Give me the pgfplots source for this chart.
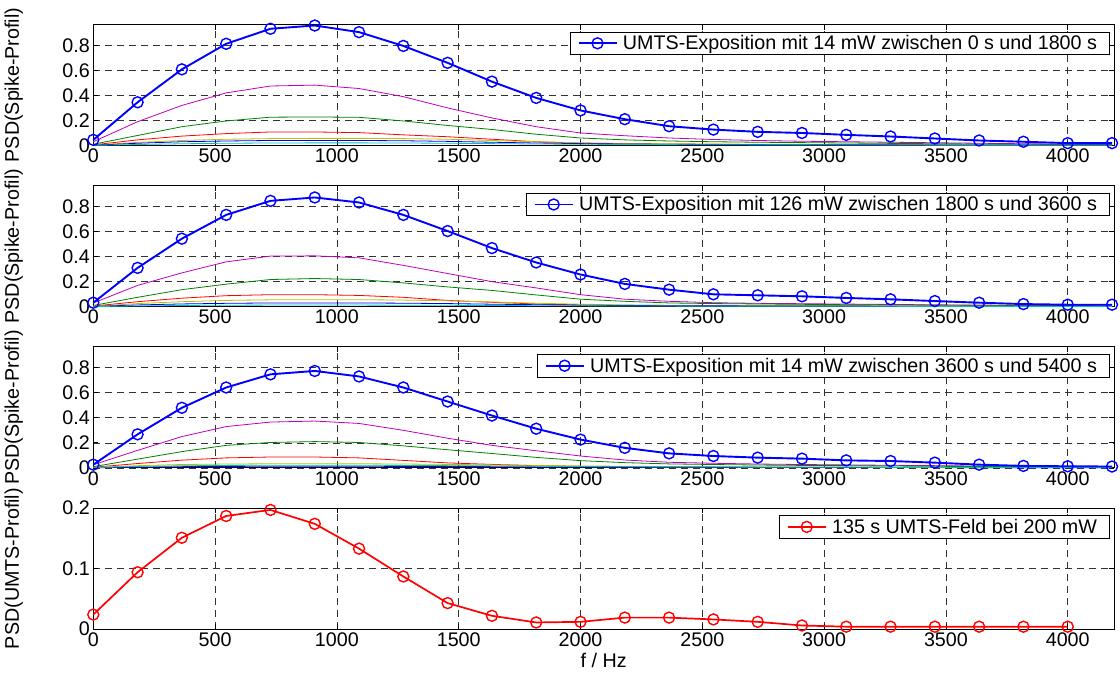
\documentclass[border=0pt]{standalone}
\usepackage{fontspec}
\setmainfont{Liberation Sans}
\usepackage{pgfplots}
\usepackage{pgfplotstable}
\pgfplotsset{compat=1.18}
\definecolor{mblue}{rgb}{0,0,1}
\definecolor{mgreen}{rgb}{0,0.5,0}
\definecolor{mred}{rgb}{1,0,0}
\definecolor{mcyan}{rgb}{0,0.75,0.75}
\definecolor{mmag}{rgb}{0.75,0,0.75}
\definecolor{myel}{rgb}{0.75,0.75,0}
\newcommand\myfs{\fontsize{19.7}{23}\selectfont}

\pgfplotstableread{
f      main   mag    grn    red    yel    blu    cya
0      0.045  0.03   0.01   0.005  0.003  0.002  0.001
181.8  0.345  0.19   0.08   0.045  0.025  0.018  0.008
363.6  0.608  0.32   0.15   0.075  0.04   0.03   0.014
545.5  0.812  0.42   0.196  0.095  0.05   0.036  0.018
727.3  0.932  0.475  0.226  0.108  0.055  0.04   0.02
909.1  0.958  0.482  0.228  0.108  0.057  0.04   0.021
1090.9 0.905  0.455  0.225  0.103  0.057  0.04   0.021
1272.7 0.795  0.39   0.196  0.085  0.055  0.038  0.02
1454.5 0.66   0.30   0.16   0.07   0.05   0.033  0.018
1636.4 0.51   0.22   0.128  0.05   0.04   0.026  0.015
1818.2 0.38   0.15   0.09   0.03   0.03   0.02   0.012
2000   0.28   0.10   0.06   0.018  0.022  0.015  0.01
2181.8 0.21   0.078  0.045  0.013  0.017  0.012  0.008
2363.6 0.154  0.06   0.036  0.01   0.014  0.01   0.007
2545.5 0.127  0.048  0.03   0.009  0.012  0.008  0.006
2727.3 0.109  0.04   0.026  0.008  0.01   0.007  0.005
2909.1 0.10   0.034  0.023  0.007  0.009  0.006  0.005
3090.9 0.085  0.03   0.02   0.006  0.008  0.005  0.004
3272.7 0.072  0.026  0.017  0.005  0.007  0.005  0.004
3454.5 0.056  0.022  0.014  0.005  0.006  0.004  0.003
3636.4 0.04   0.018  0.012  0.004  0.005  0.004  0.003
3818.2 0.03   0.014  0.01   0.004  0.004  0.003  0.003
4000   0.019  0.011  0.008  0.003  0.004  0.003  0.002
4181.8 0.019  0.01   0.007  0.003  0.003  0.003  0.002
}\tA

\pgfplotstableread{
f      main   mag    grn    red    yel    blu    cya
0      0.032  0.03   0.01   0.005  0.003  0.002  0.001
181.8  0.31   0.17   0.075  0.04   0.025  0.014  0.006
363.6  0.543  0.27   0.136  0.068  0.04   0.022  0.01
545.5  0.733  0.358  0.18   0.088  0.05   0.027  0.012
727.3  0.845  0.404  0.217  0.096  0.055  0.03   0.013
909.1  0.872  0.406  0.225  0.096  0.056  0.03   0.013
1090.9 0.832  0.39   0.217  0.09   0.056  0.03   0.013
1272.7 0.733  0.33   0.19   0.075  0.053  0.028  0.012
1454.5 0.604  0.265  0.158  0.05   0.047  0.025  0.011
1636.4 0.468  0.20   0.13   0.035  0.038  0.02   0.01
1818.2 0.353  0.15   0.094  0.022  0.028  0.016  0.008
2000   0.257  0.096  0.06   0.014  0.02   0.012  0.007
2181.8 0.182  0.06   0.043  0.01   0.015  0.009  0.006
2363.6 0.136  0.043  0.03   0.008  0.012  0.008  0.005
2545.5 0.099  0.032  0.025  0.007  0.01   0.007  0.004
2727.3 0.091  0.027  0.022  0.006  0.009  0.006  0.004
2909.1 0.083  0.024  0.019  0.005  0.008  0.005  0.003
3090.9 0.07   0.021  0.016  0.005  0.007  0.005  0.003
3272.7 0.059  0.018  0.014  0.004  0.006  0.004  0.003
3454.5 0.045  0.015  0.012  0.004  0.005  0.004  0.002
3636.4 0.032  0.013  0.01   0.003  0.005  0.003  0.002
3818.2 0.021  0.011  0.008  0.003  0.004  0.003  0.002
4000   0.016  0.009  0.007  0.003  0.004  0.003  0.002
4181.8 0.016  0.008  0.006  0.003  0.003  0.002  0.002
}\tB

\pgfplotstableread{
f      main   mag    grn    red    yel    blu    cya
0      0.026  0.025  0.01   0.005  0.003  0.001  0.002
181.8  0.268  0.14   0.07   0.035  0.018  0.007  0.012
363.6  0.48   0.25   0.13   0.062  0.027  0.01   0.017
545.5  0.642  0.33   0.18   0.08   0.031  0.012  0.02
727.3  0.747  0.366  0.203  0.087  0.033  0.013  0.021
909.1  0.774  0.374  0.21   0.087  0.033  0.013  0.021
1090.9 0.73   0.355  0.203  0.08   0.033  0.013  0.021
1272.7 0.642  0.30   0.176  0.06   0.031  0.012  0.02
1454.5 0.53   0.237  0.145  0.04   0.028  0.011  0.018
1636.4 0.418  0.18   0.115  0.028  0.024  0.01   0.016
1818.2 0.313  0.137  0.084  0.018  0.02   0.008  0.013
2000   0.226  0.095  0.058  0.012  0.016  0.007  0.011
2181.8 0.16   0.063  0.042  0.009  0.013  0.006  0.009
2363.6 0.116  0.045  0.032  0.008  0.011  0.005  0.008
2545.5 0.095  0.037  0.027  0.007  0.01   0.004  0.007
2727.3 0.082  0.031  0.023  0.006  0.009  0.004  0.006
2909.1 0.074  0.027  0.02   0.005  0.008  0.003  0.005
3090.9 0.06   0.024  0.018  0.005  0.007  0.003  0.005
3272.7 0.055  0.021  0.015  0.004  0.006  0.003  0.004
3454.5 0.042  0.018  0.013  0.004  0.005  0.003  0.004
3636.4 0.026  0.015  0.011  0.003  0.005  0.002  0.003
3818.2 0.016  0.012  0.009  0.003  0.004  0.002  0.003
4000   0.013  0.01   0.008  0.003  0.004  0.002  0.003
4181.8 0.011  0.009  0.007  0.003  0.003  0.002  0.002
}\tC

\pgfplotstableread{
f      val
0      0.024
181.8  0.094
363.6  0.151
545.5  0.187
727.3  0.197
909.1  0.174
1090.9 0.133
1272.7 0.087
1454.5 0.043
1636.4 0.022
1818.2 0.011
2000   0.012
2181.8 0.019
2363.6 0.019
2545.5 0.016
2727.3 0.012
2909.1 0.006
3090.9 0.004
3272.7 0.004
3454.5 0.004
3636.4 0.004
3818.2 0.004
4000   0.004
}\tD

\pgfplotsset{
 panel/.style={
  scale only axis, width=1020.7pt, height=121pt,
  xmin=0, xmax=4190, xtick={0,500,1000,1500,2000,2500,3000,3500,4000},
  ymin=0,
  axis line style={line width=0.9pt},
  tick align=inside, xtick pos=both, ytick pos=both,
  major tick length=5pt,
  tick style={black, line width=0.8pt},
  xmajorgrids, ymajorgrids,
  major grid style={dash pattern=on 7pt off 5pt, black!80, line width=0.7pt},
  tick label style={font=\myfs},
  /pgf/number format/assume math mode=true,
  /pgf/number format/1000 sep={},
  label style={font=\myfs},
  ylabel style={at={(axis description cs:-0.078,0.5)}, anchor=center},
  legend style={at={(0.996,0.942)}, anchor=north east, draw=black, line width=0.8pt, font=\myfs, inner xsep=7pt, inner ysep=1pt, nodes={inner xsep=5.5pt, inner ysep=2.5pt}},
  legend image code/.code={\draw[mark repeat=2, mark phase=2] plot coordinates {(0pt,0pt) (19pt,0pt) (38pt,0pt)};},
  clip=false,
 },
}

\begin{document}
\begin{tikzpicture}
\useasboundingbox (0,0) rectangle (1120pt,-678pt);

\begin{axis}[panel, at={(93.3pt,-145.5pt)}, anchor=south west, ymax=0.966, ytick={0,0.2,0.4,0.6,0.8}, ylabel={PSD(Spike-Profil)}]
\addplot[no marks, line width=0.8pt, forget plot, mmag] table[x=f,y=mag]{\tA};
\addplot[no marks, line width=0.8pt, forget plot, mgreen] table[x=f,y=grn]{\tA};
\addplot[no marks, line width=0.8pt, forget plot, mred] table[x=f,y=red]{\tA};
\addplot[no marks, line width=0.8pt, forget plot, myel] table[x=f,y=yel]{\tA};
\addplot[no marks, line width=0.8pt, forget plot, mblue] table[x=f,y=blu]{\tA};
\addplot[no marks, line width=0.8pt, forget plot, mcyan] table[x=f,y=cya]{\tA};
\addplot[mblue, mark=o, line width=1.9pt, mark size=5.5pt, mark options={line width=1.4pt}] table[x=f,y=main]{\tA};
\addlegendentry{UMTS-Exposition mit 14 mW zwischen 0 s und 1800 s}
\end{axis}

\begin{axis}[panel, at={(93.3pt,-306.7pt)}, anchor=south west, ymax=0.966, ytick={0,0.2,0.4,0.6,0.8}, ylabel={PSD(Spike-Profil)}]
\addplot[no marks, line width=0.8pt, forget plot, mmag] table[x=f,y=mag]{\tB};
\addplot[no marks, line width=0.8pt, forget plot, mgreen] table[x=f,y=grn]{\tB};
\addplot[no marks, line width=0.8pt, forget plot, mred] table[x=f,y=red]{\tB};
\addplot[no marks, line width=0.8pt, forget plot, myel] table[x=f,y=yel]{\tB};
\addplot[no marks, line width=0.8pt, forget plot, mblue] table[x=f,y=blu]{\tB};
\addplot[no marks, line width=0.8pt, forget plot, mcyan] table[x=f,y=cya]{\tB};
\addplot[mblue, mark=o, line width=1.9pt, mark size=5.5pt, mark options={line width=1.4pt}] table[x=f,y=main]{\tB};
\addlegendentry{UMTS-Exposition mit 126 mW zwischen 1800 s und 3600 s}
\end{axis}

\begin{axis}[panel, at={(93.3pt,-467.9pt)}, anchor=south west, ymax=0.966, ytick={0,0.2,0.4,0.6,0.8}, ylabel={PSD(Spike-Profil)}]
\addplot[no marks, line width=0.8pt, forget plot, mmag] table[x=f,y=mag]{\tC};
\addplot[no marks, line width=0.8pt, forget plot, mgreen] table[x=f,y=grn]{\tC};
\addplot[no marks, line width=0.8pt, forget plot, mred] table[x=f,y=red]{\tC};
\addplot[no marks, line width=0.8pt, forget plot, myel] table[x=f,y=yel]{\tC};
\addplot[no marks, line width=0.8pt, forget plot, mblue] table[x=f,y=blu]{\tC};
\addplot[no marks, line width=0.8pt, forget plot, mcyan] table[x=f,y=cya]{\tC};
\addplot[mblue, mark=o, line width=1.9pt, mark size=5.5pt, mark options={line width=1.4pt}] table[x=f,y=main]{\tC};
\addlegendentry{UMTS-Exposition mit 14 mW zwischen 3600 s und 5400 s}
\end{axis}

\begin{axis}[panel, at={(93.3pt,-629.1pt)}, anchor=south west, ymax=0.2, ytick={0,0.1,0.2}, ylabel={PSD(UMTS-Profil)}, xlabel={f / Hz}]
\addplot[mred, mark=o, line width=1.7pt, mark size=5.5pt, mark options={line width=1.4pt}] table[x=f,y=val]{\tD};
\addlegendentry{135 s UMTS-Feld bei 200 mW}
\end{axis}
\end{tikzpicture}
\end{document}
